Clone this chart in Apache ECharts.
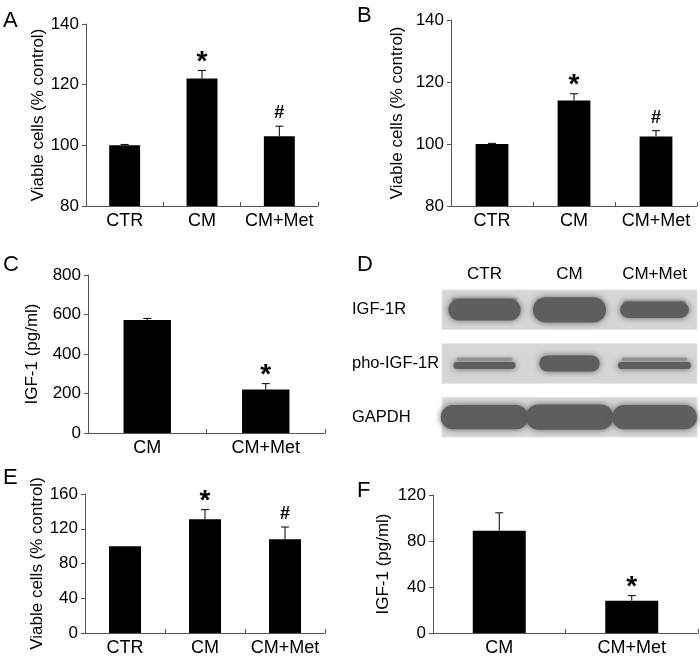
<!DOCTYPE html>
<html><head><meta charset="utf-8">
<script src="https://cdn.jsdelivr.net/npm/echarts@6/dist/echarts.min.js"></script>
<style>html,body{margin:0;padding:0;background:#fff}#c{width:700px;height:657px}</style>
</head><body><div id="c"></div>
<script>
// ---------- data ----------
const catsABE = ['CTR', 'CM', 'CM+Met'];
const catsCF = ['CM', 'CM+Met'];
const valsA = [100, 122, 103];
const errA = [0.3, 2.7, 3.3];
const marksA = ['', '*', '#'];
const valsB = [100, 114, 102.4];
const errB = [0.2, 2.2, 1.9];
const marksB = ['', '*', '#'];
const valsC = [572, 220];
const errC = [8, 30];
const marksC = ['', '*'];
const valsE = [100, 131, 108];
const errE = [0, 11, 14];
const marksE = ['', '*', '#'];
const valsF = [89, 28];
const errF = [15.5, 4.5];
const marksF = ['', '*'];
const ticksA = [80, 140, 20];
const ticksB = [80, 140, 20];
const ticksC = [0, 800, 200];
const ticksE = [0, 160, 40];
const ticksF = [0, 120, 40];
// western blot (relative band size per row x lane)
const blotLanes = ['CTR', 'CM', 'CM+Met'];
const blotRows = ['IGF-1R', 'pho-IGF-1R', 'GAPDH'];
const bandWidth = [[0.85, 0.86, 0.81], [0.73, 0.71, 0.86], [1.03, 1.03, 1.0]];
const bandThick = [[0.40, 0.47, 0.30], [0.13, 0.30, 0.13], [0.45, 0.47, 0.45]];
const bandDoublet = [[1, 0, 1], [1, 0, 1], [0, 0, 0]];

// ---------- chart ----------
const FONT = "'Liberation Sans', Arial, sans-serif";
const AX = '#555';
const chart = echarts.init(document.getElementById('c'), null, {renderer: 'canvas'});

const grids = [
  {left: 86, top: 24, width: 232, height: 182},   // A
  {left: 451, top: 20, width: 246, height: 186},  // B
  {left: 88, top: 275, width: 237, height: 158},  // C
  {left: 442, top: 283, width: 255, height: 161}, // D (blot)
  {left: 85, top: 494, width: 240, height: 139},  // E
  {left: 433, top: 495, width: 265, height: 138}  // F
];

function catAxis(gi, cats) {
  return {
    type: 'category', gridIndex: gi, data: cats,
    axisLine: {show: true, lineStyle: {color: AX, width: 1}},
    axisTick: {show: true, inside: true, length: 4, lineStyle: {color: AX}},
    axisLabel: {color: '#000', fontSize: 18, fontFamily: FONT, margin: 6, interval: 0}
  };
}
function valAxis(gi, t, name, gap) {
  return {
    type: 'value', gridIndex: gi, min: t[0], max: t[1], interval: t[2],
    name: name, nameLocation: 'middle', nameGap: gap,
    nameTextStyle: {color: '#000', fontSize: 17, fontFamily: FONT},
    axisLine: {show: true, lineStyle: {color: AX, width: 1}},
    axisTick: {show: true, length: 4, lineStyle: {color: AX}},
    axisLabel: {color: '#000', fontSize: 17, fontFamily: FONT, margin: 7},
    splitLine: {show: false}
  };
}
function barSeries(i, vals) {
  return {type: 'bar', xAxisIndex: i, yAxisIndex: i, data: vals, barWidth: '40%',
    itemStyle: {color: '#000'}, silent: true, animation: false};
}
function errSeries(i, vals, errs, marks) {
  return {
    type: 'custom', xAxisIndex: i, yAxisIndex: i, z: 5, animation: false, silent: true,
    data: vals.map((v, k) => [k, v, errs[k]]),
    renderItem: function (params, api) {
      const k = api.value(0), v = api.value(1), e = api.value(2);
      const p0 = api.coord([k, v]), p1 = api.coord([k, v + e]);
      const ch = [];
      if (e > 0) {
        ch.push({type: 'line', shape: {x1: p0[0], y1: p0[1], x2: p1[0], y2: p1[1]}, style: {stroke: '#000', lineWidth: 1}});
        ch.push({type: 'line', shape: {x1: p1[0] - 4, y1: p1[1], x2: p1[0] + 4, y2: p1[1]}, style: {stroke: '#000', lineWidth: 1}});
      }
      const m = marks[params.dataIndex];
      if (m === '*') {
        ch.push({type: 'text', style: {text: '*', x: p1[0], y: p1[1] + 6, align: 'center', verticalAlign: 'bottom',
          font: "bold 28px 'Liberation Sans', Arial, sans-serif", fill: '#000'}});
      } else if (m) {
        ch.push({type: 'text', style: {text: m, x: p1[0], y: p1[1] - 4, align: 'center', verticalAlign: 'bottom',
          font: "bold 18px 'Liberation Sans', Arial, sans-serif", fill: '#000'}});
      }
      return {type: 'group', children: ch};
    }
  };
}

const blotData = [];
blotRows.forEach((r, ri) => blotLanes.forEach((l, li) => blotData.push([li, ri, bandWidth[ri][li], bandThick[ri][li], bandDoublet[ri][li]])));

const option = {
  backgroundColor: '#fff',
  animation: false,
  grid: grids,
  xAxis: [
    catAxis(0, catsABE), catAxis(1, catsABE), catAxis(2, catsCF),
    {type: 'category', gridIndex: 3, data: blotLanes, position: 'top',
      axisLine: {show: false}, axisTick: {show: false},
      axisLabel: {color: '#000', fontSize: 17, fontFamily: FONT, margin: 0, interval: 0}},
    catAxis(4, catsABE), catAxis(5, catsCF)
  ],
  yAxis: [
    valAxis(0, ticksA, 'Viable cells (% control)', 28),
    valAxis(1, ticksB, 'Viable cells (% control)', 45),
    valAxis(2, ticksC, 'IGF-1 (pg/ml)', 47),
    {type: 'category', gridIndex: 3, data: blotRows, inverse: true,
      axisLine: {show: false}, axisTick: {show: false},
      axisLabel: {color: '#000', fontSize: 16.5, fontFamily: FONT, margin: 90, align: 'left', interval: 0}},
    valAxis(4, ticksE, 'Viable cells (% control)', 39),
    valAxis(5, ticksF, 'IGF-1 (pg/ml)', 41)
  ],
  series: [
    barSeries(0, valsA), errSeries(0, valsA, errA, marksA),
    barSeries(1, valsB), errSeries(1, valsB, errB, marksB),
    barSeries(2, valsC), errSeries(2, valsC, errC, marksC),
    barSeries(4, valsE), errSeries(4, valsE, errE, marksE),
    barSeries(5, valsF), errSeries(5, valsF, errF, marksF),
    // blot membrane strips
    {type: 'custom', xAxisIndex: 3, yAxisIndex: 3, silent: true, z: 1,
      data: blotRows.map((r, ri) => [0, ri]),
      renderItem: function (params, api) {
        const cs = params.coordSys;
        const c = api.coord([0, api.value(1)]);
        const h = api.size([0, 1])[1] * 0.74;
        return {type: 'rect', shape: {x: cs.x, y: c[1] - h / 2, width: cs.width, height: h},
          style: {fill: '#d6d6d6', stroke: '#e6e6e6', lineWidth: 1}};
      }},
    // blot bands
    {type: 'custom', xAxisIndex: 3, yAxisIndex: 3, silent: true, z: 2,
      data: blotData,
      renderItem: function (params, api) {
        const c = api.coord([api.value(0), api.value(1)]);
        const sz = api.size([1, 1]);
        const w = sz[0] * api.value(2), h = sz[1] * api.value(3);
        const row = api.value(1);
        const ch = [];
        if (api.value(4)) {
          const dy = row === 1 ? -4 : -h / 2 + 1;
          ch.push({type: 'rect', shape: {x: c[0] - w * 0.45, y: c[1] + dy - 2, width: w * 0.9, height: 3, r: 1.5},
            style: {fill: '#9a9a9a', shadowBlur: 3, shadowColor: '#aaa', opacity: 0.9}});
        }
        const oy = row === 1 && api.value(4) ? 2 : 0;
        ch.push({type: 'rect', shape: {x: c[0] - w / 2, y: c[1] - h / 2 + oy, width: w, height: h, r: h / 2},
          style: {fill: '#5e5e5e', shadowBlur: 6, shadowColor: 'rgba(90,90,90,0.95)'}});
        return {type: 'group', children: ch};
      }}
  ],
  graphic: [
    {type: 'text', left: 3, top: 10, style: {text: 'A', font: "22px 'Liberation Sans', Arial, sans-serif", fill: '#000'}},
    {type: 'text', left: 357, top: 5, style: {text: 'B', font: "22px 'Liberation Sans', Arial, sans-serif", fill: '#000'}},
    {type: 'text', left: 3, top: 254, style: {text: 'C', font: "22px 'Liberation Sans', Arial, sans-serif", fill: '#000'}},
    {type: 'text', left: 357, top: 254, style: {text: 'D', font: "22px 'Liberation Sans', Arial, sans-serif", fill: '#000'}},
    {type: 'text', left: 3, top: 467, style: {text: 'E', font: "22px 'Liberation Sans', Arial, sans-serif", fill: '#000'}},
    {type: 'text', left: 357, top: 480, style: {text: 'F', font: "22px 'Liberation Sans', Arial, sans-serif", fill: '#000'}}
  ]
};
chart.setOption(option);
</script>
</body></html>
